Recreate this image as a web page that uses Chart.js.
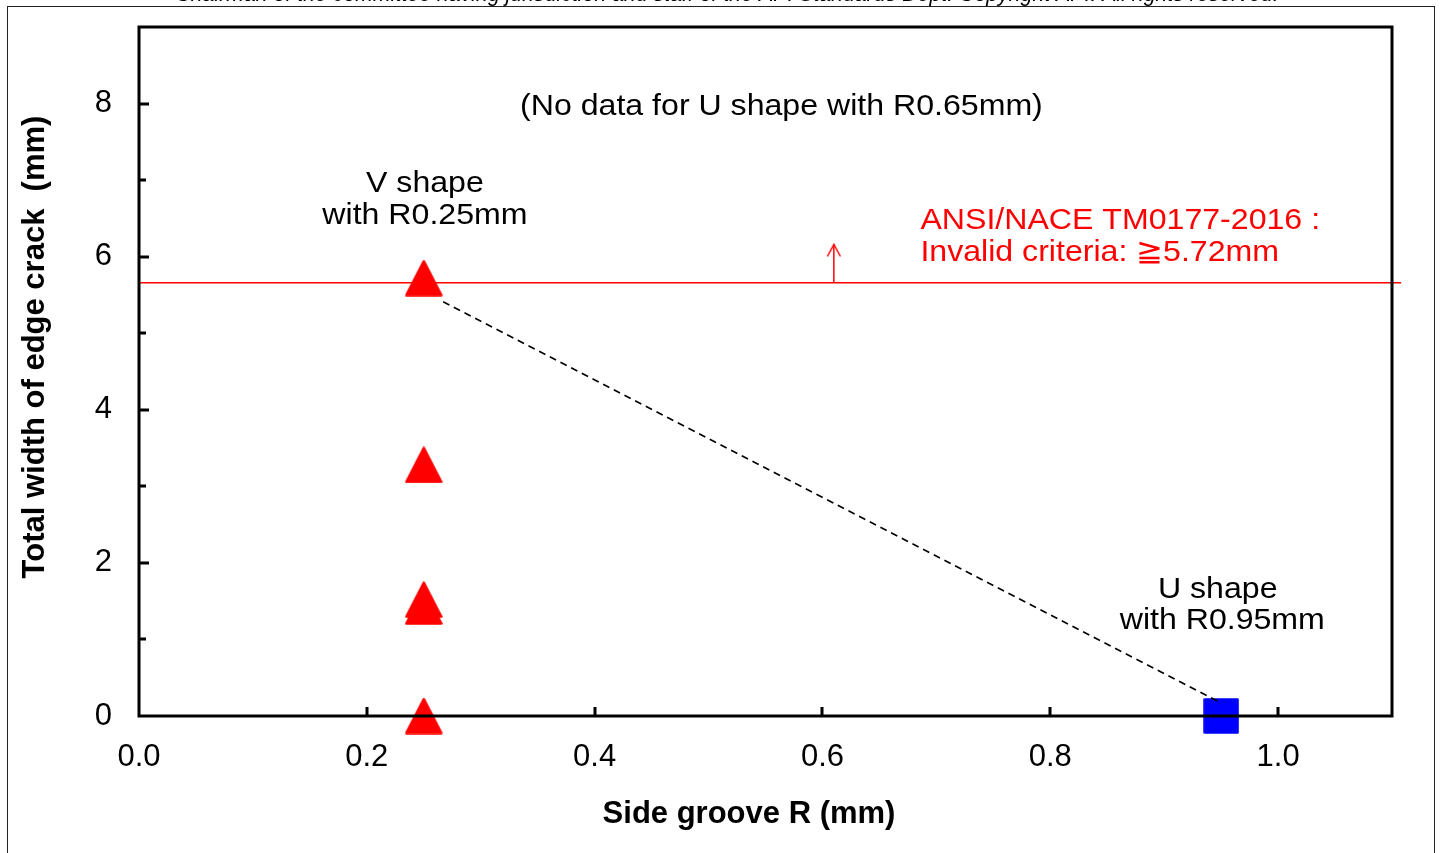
<!DOCTYPE html>
<html>
<head>
<meta charset="utf-8">
<script src="https://cdn.jsdelivr.net/npm/chart.js@4"></script>
<style>
  html, body { margin: 0; padding: 0; background: #fff; }
  #wrap { width: 1441px; height: 853px; position: relative; }
</style>
</head>
<body>
<div id="wrap"><canvas id="grooveChart" width="1441" height="853"></canvas></div>
<script>
// values
const vShapeR = 0.25;
const vShapeCrack = [5.72, 3.28, 1.52, 1.43, 0];
const uShapeR = [0.95];
const uShapeCrack = [0];
const trendR = [0.267, 0.95];
const trendCrack = [5.41, 0.17];
const criteriaR = [0, 1.108];
const criteriaCrack = 5.66;
const arrowR = 0.61;
const arrowCrack = [5.66, 6.16];
const xTicks = [0.0, 0.2, 0.4, 0.6, 0.8, 1.0];
const yTicks = [0, 2, 4, 6, 8];

const FONT = "'Liberation Sans', Arial, sans-serif";

const makeTriangle = () => {
  const c = document.createElement("canvas");
  c.width = 38; c.height = 37;
  const g = c.getContext("2d");
  g.fillStyle = "#ff0000";
  g.strokeStyle = "#ff0000";
  g.lineWidth = 2.5;
  g.lineJoin = "round";
  g.beginPath();
  g.moveTo(19, 1.5);
  g.lineTo(36.5, 35.5);
  g.lineTo(1.5, 35.5);
  g.closePath();
  g.fill();
  g.stroke();
  return c;
};

const makeSquare = () => {
  const c = document.createElement("canvas");
  c.width = 36; c.height = 36;
  const g = c.getContext("2d");
  g.fillStyle = "#0000ff";
  g.strokeStyle = "#0000ff";
  g.lineWidth = 2.5;
  g.lineJoin = "round";
  g.beginPath();
  g.rect(1.5, 1.5, 33, 33);
  g.fill();
  g.stroke();
  return c;
};

const makeArrowHead = () => {
  const c = document.createElement("canvas");
  c.width = 30; c.height = 30;
  const g = c.getContext("2d");
  g.strokeStyle = "#ff0000";
  g.lineWidth = 1.5;
  g.beginPath();
  g.moveTo(8.5, 27);
  g.lineTo(15, 15);
  g.lineTo(21.5, 27);
  g.stroke();
  return c;
};

const frame = {
  id: "frame",
  beforeDraw(chart) {
    const ctx = chart.ctx;
    ctx.save();
    ctx.fillStyle = "#fff";
    ctx.fillRect(0, 0, chart.width, chart.height);
    ctx.strokeStyle = "#222";
    ctx.lineWidth = 1;
    ctx.strokeRect(7.5, 6.5, 1427, 900);
    // cut-off header line
    const txt = "Chairman of the committee having jurisdiction and staff of the API Standards Dept. Copyright API. All rights reserved.";
    ctx.font = "italic 18px " + FONT;
    const size = 18 * 1103 / ctx.measureText(txt).width;
    ctx.font = "italic " + size.toFixed(1) + "px " + FONT;
    ctx.fillStyle = "#000";
    ctx.textAlign = "center";
    ctx.textBaseline = "alphabetic";
    ctx.fillText(txt, 727, 1);
    ctx.restore();
  },
  afterDraw(chart) {
    const { ctx, chartArea: a, scales } = chart;
    const x = scales.x, y = scales.y;
    ctx.save();
    ctx.strokeStyle = "#000";
    ctx.lineWidth = 3;
    ctx.strokeRect(a.left, a.top, a.right - a.left, a.bottom - a.top);
    // inward ticks
    ctx.beginPath();
    xTicks.slice(1).forEach((v) => {
      const px = Math.round(x.getPixelForValue(v));
      ctx.moveTo(px, a.bottom);
      ctx.lineTo(px, a.bottom - 9);
    });
    for (let v = 1; v < 9; v++) {
      const py = Math.round(y.getPixelForValue(v));
      ctx.moveTo(a.left, py);
      ctx.lineTo(a.left + (v % 2 === 0 ? 10 : 7), py);
    }
    ctx.stroke();

    // axis titles (not centred on the plot in the source)
    ctx.fillStyle = "#000";
    ctx.font = "bold 31px " + FONT;
    ctx.textAlign = "center";
    ctx.textBaseline = "alphabetic";
    ctx.fillText("Side groove R (mm)", 749, 823);
    ctx.save();
    ctx.translate(35, 347);
    ctx.rotate(-Math.PI / 2);
    ctx.textBaseline = "middle";
    ctx.fillText("Total width of edge crack  (mm)", 0, 0);
    ctx.restore();

    // annotations (slightly wide face, as in the source)
    const put = (text, vx, vy, color, align) => {
      const px = x.getPixelForValue(vx), py = y.getPixelForValue(vy) + 3;
      ctx.save();
      ctx.translate(px, py);
      ctx.scale(1.07, 1);
      ctx.fillStyle = color;
      ctx.textAlign = align;
      ctx.fillText(text, 0, 0);
      ctx.restore();
    };
    ctx.font = "30px " + FONT;
    ctx.textBaseline = "middle";
    put("(No data for U shape with R0.65mm)", 0.564, 8.0, "#000", "center");
    put("V shape", 0.251, 6.99, "#000", "center");
    put("with R0.25mm", 0.251, 6.58, "#000", "center");
    put("U shape", 0.947, 1.69, "#000", "center");
    put("with R0.95mm", 0.951, 1.28, "#000", "center");
    put("ANSI/NACE TM0177-2016 :", 0.686, 6.51, "#ff0000", "left");
    put("Invalid criteria: \u22675.72mm", 0.686, 6.09, "#ff0000", "left");
    ctx.restore();
  },
};

const data = {
  datasets: [
    {
      label: "criteria",
      data: criteriaR.map((r) => ({ x: r, y: criteriaCrack })),
      showLine: true,
      borderColor: "#ff0000",
      borderWidth: 1.5,
      pointRadius: 0,
      clip: false,
    },
    {
      label: "arrow",
      data: arrowCrack.map((c) => ({ x: arrowR, y: c })),
      showLine: true,
      borderColor: "#ff0000",
      borderWidth: 1.5,
      pointRadius: [0, 10],
      pointStyle: makeArrowHead(),
    },
    {
      label: "trend",
      data: trendR.map((r, i) => ({ x: r, y: trendCrack[i] })),
      showLine: true,
      borderColor: "#000",
      borderWidth: 1.6,
      borderDash: [7, 5],
      pointRadius: 0,
    },
    {
      label: "V shape",
      data: vShapeCrack.map((c) => ({ x: vShapeR, y: c })),
      pointStyle: makeTriangle(),
      pointRadius: 18,
      clip: false,
    },
    {
      label: "U shape",
      data: uShapeR.map((r, i) => ({ x: r, y: uShapeCrack[i] })),
      pointStyle: makeSquare(),
      pointRadius: 18,
      clip: false,
    },
  ],
};

const options = {
  responsive: false,
  animation: false,
  layout: { padding: { top: 27, right: 49, left: 0, bottom: 0 } },
  plugins: { legend: { display: false }, tooltip: { enabled: false } },
  scales: {
    x: {
      type: "linear",
      min: 0,
      max: 1.1,
      afterFit: (s) => { s.height = 137; s.paddingLeft = 0; s.paddingRight = 0; },
      afterBuildTicks: (s) => { s.ticks = xTicks.map((v) => ({ value: v })); },
      grid: { display: false, drawTicks: false },
      border: { display: false },
      ticks: {
        padding: 23,
        color: "#000",
        font: { family: FONT, size: 31 },
        callback: (v) => Number(v).toFixed(1),
      },
    },
    y: {
      type: "linear",
      min: 0,
      max: 9,
      afterFit: (s) => { s.width = 139; s.paddingTop = 0; s.paddingBottom = 0; },
      afterBuildTicks: (s) => { s.ticks = yTicks.map((v) => ({ value: v })); },
      grid: { display: false, drawTicks: false },
      border: { display: false },
      ticks: {
        padding: 27,
        color: "#000",
        font: { family: FONT, size: 31 },
      },
    },
  },
};

new Chart("grooveChart", { type: "scatter", data, options, plugins: [frame] });
</script>
</body>
</html>
